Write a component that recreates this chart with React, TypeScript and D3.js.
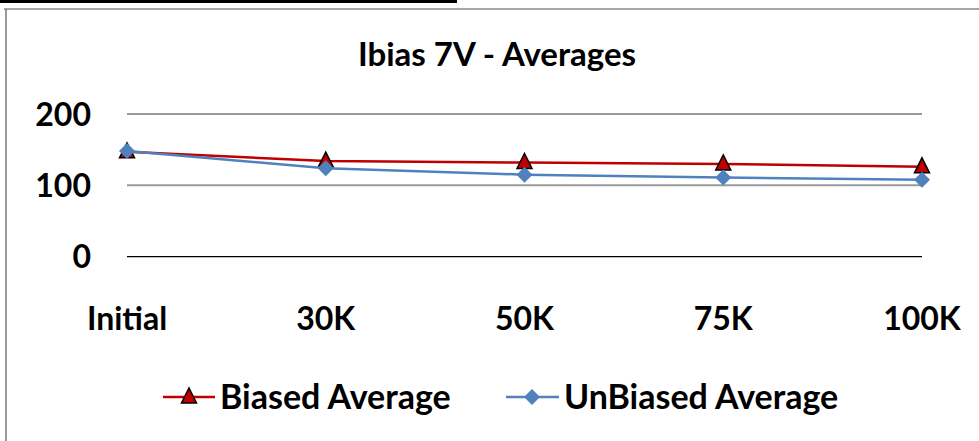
import React from "react";
import * as d3 from "d3";

const categories = ["Initial", "30K", "50K", "75K", "100K"];
const biased = [147, 134, 132, 130, 126];
const unbiased = [148, 124, 115, 111, 108];
const yTicks = [0, 100, 200];
const title = "Ibias 7V - Averages";
const seriesNames = ["Biased Average", "UnBiased Average"];

const W = 979;
const H = 441;
const FONT = "Lato, 'Open Sans', sans-serif";

export default function App() {
  const x = d3.scalePoint<string>().domain(categories).range([127, 922]);
  const y = d3.scaleLinear().domain([0, 200]).range([256.7, 114]);
  const line = d3
    .line<number>()
    .x((_, i) => x(categories[i]) as number)
    .y((d) => y(d));

  const tri = (cx: number, cy: number) =>
    `M${cx},${cy - 9} L${cx + 7.5},${cy + 6} L${cx - 7.5},${cy + 6} Z`;
  const dia = (cx: number, cy: number) =>
    `M${cx},${cy - 8} L${cx + 8},${cy} L${cx},${cy + 8} L${cx - 8},${cy} Z`;

  return (
    <svg
      width={W}
      height={H}
      style={{ position: "absolute", left: 0, top: 0, background: "#fff" }}
      fontFamily={FONT}
    >
      <rect x={0} y={0} width={457} height={3} fill="#000" />
      <line x1={4} x2={W} y1={9} y2={9} stroke="#888" strokeWidth={1.5} />
      <line x1={6} x2={6} y1={9} y2={H} stroke="#777" strokeWidth={1.5} />
      <text x={497} y={66} textAnchor="middle" fontSize={33} fontWeight={700}>
        {title}
      </text>
      {yTicks.map((t) => (
        <g key={t}>
          <line
            x1={127}
            x2={922}
            y1={y(t)}
            y2={y(t)}
            stroke={t === 0 ? "#000" : "#999"}
            strokeWidth={t === 0 ? 1.2 : 2}
          />
          <text
            x={91}
            y={y(t)}
            dy="0.36em"
            textAnchor="end"
            fontSize={32}
            fontWeight={700}
          >
            {t}
          </text>
        </g>
      ))}
      {categories.map((c) => (
        <text
          key={c}
          x={x(c)}
          y={318}
          dy="0.36em"
          textAnchor="middle"
          fontSize={32}
          fontWeight={700}
        >
          {c}
        </text>
      ))}
      <path d={line(biased) || ""} fill="none" stroke="#C00000" strokeWidth={2.5} />
      {biased.map((v, i) => (
        <path
          key={i}
          d={tri(x(categories[i]) as number, y(v))}
          fill="#C00000"
          stroke="#000"
          strokeWidth={1.5}
        />
      ))}
      <path d={line(unbiased) || ""} fill="none" stroke="#4F81BD" strokeWidth={2.5} />
      {unbiased.map((v, i) => (
        <path key={i} d={dia(x(categories[i]) as number, y(v))} fill="#4F81BD" />
      ))}
      <g>
        <line x1={163} x2={215} y1={397} y2={397} stroke="#C00000" strokeWidth={2.5} />
        <path d={tri(189, 397)} fill="#C00000" stroke="#000" strokeWidth={1.5} />
        <text x={220} y={397} dy="0.36em" fontSize={34} fontWeight={700}>
          {seriesNames[0]}
        </text>
        <line x1={506} x2={559} y1={397} y2={397} stroke="#4F81BD" strokeWidth={2.5} />
        <path d={dia(532, 397)} fill="#4F81BD" />
        <text x={564} y={397} dy="0.36em" fontSize={34} fontWeight={700}>
          {seriesNames[1]}
        </text>
      </g>
    </svg>
  );
}
